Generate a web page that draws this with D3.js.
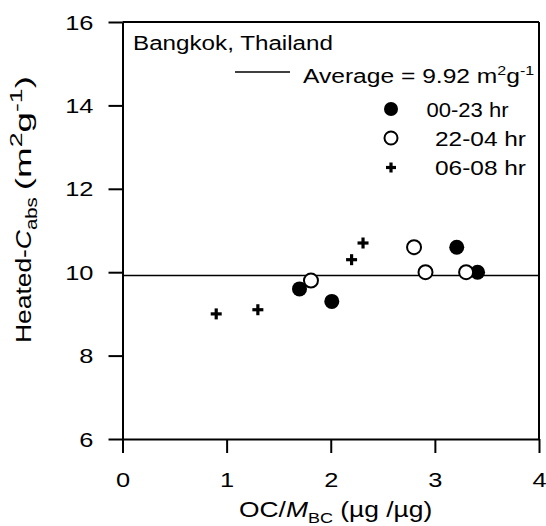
<!DOCTYPE html>
<html>
<head>
<meta charset="utf-8">
<script src="https://cdn.jsdelivr.net/npm/d3@7"></script>
<style>
html,body{margin:0;padding:0;background:#fff;}
text{font-family:"Liberation Sans", Arial, sans-serif;fill:#000;}
</style>
</head>
<body>
<svg id="chart" width="546" height="526"></svg>
<script>
// Data
const allDayOC = [1.70, 2.01, 3.21, 3.41];
const allDayCabs = [9.6, 9.3, 10.6, 10.0];
const nightOC = [1.81, 2.80, 2.91, 3.30];
const nightCabs = [9.8, 10.6, 10.0, 10.0];
const morningOC = [0.90, 1.30, 2.20, 2.31];
const morningCabs = [9.0, 9.1, 10.3, 10.7];
const averageCabs = 9.92;
const xTicks = [0, 1, 2, 3, 4];
const yTicks = [6, 8, 10, 12, 14, 16];
const seriesLabels = ["00-23 hr", "22-04 hr", "06-08 hr"];

const SX = 1.27; // horizontal glyph stretch of the original lettering

const svg = d3.select("#chart");
const m = {left:122.5, right:7, top:22, bottom:87};
const W = 546, H = 526;
const x = d3.scaleLinear().domain([0,4]).range([m.left, W-m.right]);
const y = d3.scaleLinear().domain([6,16]).range([H-m.bottom, m.top]);

// frame
svg.append("line").attr("x1",x(0)).attr("x2",x(4)).attr("y1",y(16)).attr("y2",y(16))
  .attr("stroke","#000").attr("stroke-width",2);
svg.append("line").attr("x1",x(4)).attr("x2",x(4)).attr("y1",y(16)).attr("y2",y(6))
  .attr("stroke","#000").attr("stroke-width",2);

// axes
const xAxis = d3.axisBottom(x).tickValues(xTicks).tickFormat(d3.format("d")).tickSize(14).tickSizeOuter(0);
const yAxis = d3.axisLeft(y).tickValues(yTicks).tickFormat(d3.format("d")).tickSize(14).tickSizeOuter(0);
const gx = svg.append("g").attr("transform",`translate(0,${y(6)})`).call(xAxis);
const gy = svg.append("g").attr("transform",`translate(${x(0)},0)`).call(yAxis);
[gx,gy].forEach(g=>{
  g.selectAll("path.domain").attr("stroke","#000").attr("stroke-width",2);
  g.selectAll(".tick line").attr("stroke","#000").attr("stroke-width",2);
  g.selectAll(".tick text").style("font-family","Liberation Sans, Arial, sans-serif").style("font-size","20px").attr("fill","#000");
});
gx.selectAll(".tick text").attr("x",0).attr("y",0).attr("dy",null)
  .attr("transform",`translate(0,48) scale(${SX},1)`);
gy.selectAll(".tick text").attr("x",0).attr("dy","0.35em")
  .attr("transform",`translate(-29,0) scale(${SX},1)`);

// average line
svg.append("line").attr("x1",x(0)).attr("x2",x(4)).attr("y1",y(averageCabs)).attr("y2",y(averageCabs))
  .attr("stroke","#000").attr("stroke-width",1.5);

// points
const toPts = (xs, ys) => xs.map((v,i)=>({x:v, y:ys[i]}));
svg.append("g").selectAll("circle").data(toPts(allDayOC, allDayCabs)).join("circle")
  .attr("cx",d=>x(d.x)).attr("cy",d=>y(d.y)).attr("r",7.5).attr("fill","#000");
svg.append("g").selectAll("circle").data(toPts(nightOC, nightCabs)).join("circle")
  .attr("cx",d=>x(d.x)).attr("cy",d=>y(d.y)).attr("r",7).attr("fill","#fff").attr("stroke","#000").attr("stroke-width",2);
function plus(g, cx, cy, h){
  g.append("line").attr("x1",cx-h).attr("x2",cx+h).attr("y1",cy).attr("y2",cy).attr("stroke","#000").attr("stroke-width",3.2);
  g.append("line").attr("x1",cx).attr("x2",cx).attr("y1",cy-h).attr("y2",cy+h).attr("stroke","#000").attr("stroke-width",3.2);
}
const gp = svg.append("g");
toPts(morningOC, morningCabs).forEach(d=>plus(gp, x(d.x), y(d.y), 5.5));

// legend
function stretched(px, py, len){
  return svg.append("text").attr("x",px).attr("y",py).style("font-size","20px")
    .attr("textLength",len).attr("lengthAdjust","spacingAndGlyphs");
}
stretched(133, 49.5, 200).text("Bangkok, Thailand");
svg.append("line").attr("x1",235).attr("x2",290).attr("y1",72).attr("y2",72).attr("stroke","#000").attr("stroke-width",1.5);
const avg = svg.append("text").attr("transform",`translate(303,83.3) scale(1.23,1)`).style("font-size","20px");
avg.append("tspan").text("Average = 9.92 m");
avg.append("tspan").attr("dy",-8).style("font-size","13px").text("2");
avg.append("tspan").attr("dy",8).text("g");
avg.append("tspan").attr("dy",-8).style("font-size","13px").text("-1");

svg.append("circle").attr("cx",391).attr("cy",109).attr("r",7).attr("fill","#000");
stretched(426.5, 116.5, 82).text(seriesLabels[0]);
svg.append("circle").attr("cx",391).attr("cy",138).attr("r",6.5).attr("fill","#fff").attr("stroke","#000").attr("stroke-width",2);
stretched(435, 145.5, 91).text(seriesLabels[1]);
plus(svg, 391, 167.5, 5);
stretched(435, 175, 91).text(seriesLabels[2]);

// axis titles
const xl = svg.append("text").attr("transform",`translate(239,517) scale(1.2,1)`).style("font-size","22px");
xl.append("tspan").text("OC/");
xl.append("tspan").style("font-style","italic").text("M");
xl.append("tspan").attr("dy",6).style("font-size","15px").text("BC");
xl.append("tspan").attr("dy",-6).text(" (\u00b5g /\u00b5g)");

// y title in two runs: main run, then the unit run which is set wider in the original
const yl = svg.append("text").attr("transform","translate(31,343) rotate(-90) scale(1.2,1)").style("font-size","22px");
yl.append("tspan").text("Heated-");
yl.append("tspan").style("font-style","italic").text("C");
yl.append("tspan").attr("dy",6).style("font-size","17px").text("abs");
const len1 = yl.node().getComputedTextLength() * 1.2;
const unitStart = 343 - len1 - 7;
const unitEnd = 76;
const yu = svg.append("text").style("font-size","22px");
yu.append("tspan").text("(m");
yu.append("tspan").attr("dy",-9).style("font-size","16px").text("2");
yu.append("tspan").attr("dy",9).text("g");
yu.append("tspan").attr("dy",-9).style("font-size","16px").text("-1");
yu.append("tspan").attr("dy",9).text(")");
const len2 = yu.node().getComputedTextLength();
const s2 = (unitStart - unitEnd) / len2;
yu.attr("transform",`translate(31,${unitStart}) rotate(-90) scale(${s2},1)`);
</script>
</body>
</html>
